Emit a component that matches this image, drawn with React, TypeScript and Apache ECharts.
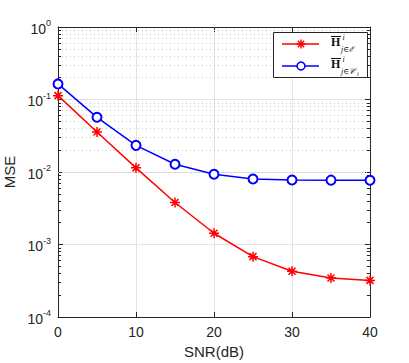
import React, { useEffect, useRef } from "react";
import * as echarts from "echarts";

const snr = [0, 5, 10, 15, 20, 25, 30, 35, 40];
const mseE = [0.113, 0.0356, 0.0114, 0.0038, 0.00143, 0.00068, 0.000427, 0.000345, 0.00032];
const mseC = [0.164, 0.0568, 0.0233, 0.0128, 0.0093, 0.008, 0.00777, 0.00772, 0.0077];
const xTicks = [0, 10, 20, 30, 40];
const decades = [-4, -3, -2, -1, 0];
const minorMult = [2, 3, 4, 5, 6, 7, 8, 9];

const AX = "#262626";
const FONT = "'Liberation Sans', Arial, Helvetica, sans-serif";
const SERIF = "'Liberation Serif', 'DejaVu Serif', serif";
const STAR = "path://M0,-10L0,10M-10,0L10,0M-7,-7L7,7M-7,7L7,-7";

export default function App() {
  const ref = useRef<HTMLDivElement>(null);
  useEffect(() => {
    document.body.style.margin = "0";
    const chart = echarts.init(ref.current!, null, { renderer: "svg" });
    const minorVals: number[] = [];
    decades.slice(0, -1).forEach((d) => minorMult.forEach((m) => minorVals.push(m * Math.pow(10, d))));
    const xMin = xTicks[0];
    const xMax = xTicks[xTicks.length - 1];
    const minorGrid = minorVals.map((v) => ({ yAxis: v }));
    const minorTicks: any[] = [];
    minorVals.forEach((v) => {
      minorTicks.push([{ coord: [xMin, v] }, { coord: [xMin + 0.4, v] }]);
      minorTicks.push([{ coord: [xMax - 0.4, v] }, { coord: [xMax, v] }]);
    });
    const yLabel = (v: number) => {
      const e = Math.round(Math.log10(v));
      return `{b|10}{s|${e}}`;
    };
    const ySide = (pos: "left" | "right", show: boolean) => ({
      type: "log",
      logBase: 10,
      min: 1e-4,
      max: 1,
      position: pos,
      splitNumber: 4,
      axisLine: { show: true, onZero: false, lineStyle: { color: AX, width: 1 } },
      axisTick: { show: true, inside: true, length: 5, lineStyle: { color: AX } },
      splitLine: { show: show, lineStyle: { color: "#e3e3e3", width: 1 } },
      axisLabel: {
        show: show,
        formatter: yLabel,
        margin: 7,
        rich: {
          b: { fontSize: 14, fontFamily: FONT, color: AX, lineHeight: 17, verticalAlign: "bottom" },
          s: { fontSize: 9, fontFamily: FONT, color: AX, lineHeight: 17, verticalAlign: "top" },
        },
      },
      name: show ? "MSE" : "",
      nameLocation: "middle",
      nameGap: 30,
      nameRotate: 90,
      nameTextStyle: { fontSize: 15, fontFamily: FONT, color: AX },
    });
    const xSide = (pos: "bottom" | "top", show: boolean) => ({
      type: "value",
      min: xMin,
      max: xMax,
      interval: 10,
      position: pos,
      axisLine: { show: true, onZero: false, lineStyle: { color: AX, width: 1 } },
      axisTick: { show: true, inside: true, length: 5, lineStyle: { color: AX } },
      splitLine: { show: show, lineStyle: { color: "#e3e3e3", width: 1 } },
      axisLabel: { show: show, fontSize: 14, fontFamily: FONT, color: AX, margin: 8 },
      name: show ? "SNR(dB)" : "",
      nameLocation: "middle",
      nameGap: 27,
      nameTextStyle: { fontSize: 15, fontFamily: FONT, color: AX },
    });

    const lx = 273, ly = 32;
    const legendEntry = (dy: number, color: string, marker: "star" | "circle", sub: string, subI: boolean) => {
      const cy = ly + 12 + dy;
      const els: any[] = [
        { type: "line", shape: { x1: lx + 9, y1: cy, x2: lx + 46, y2: cy }, style: { stroke: color, lineWidth: 1.5 } },
      ];
      if (marker === "star") {
        const r = 4.5, d = 3.2, cx = lx + 28;
        els.push(
          { type: "line", shape: { x1: cx, y1: cy - r, x2: cx, y2: cy + r }, style: { stroke: color, lineWidth: 1.5 } },
          { type: "line", shape: { x1: cx - r, y1: cy, x2: cx + r, y2: cy }, style: { stroke: color, lineWidth: 1.5 } },
          { type: "line", shape: { x1: cx - d, y1: cy - d, x2: cx + d, y2: cy + d }, style: { stroke: color, lineWidth: 1.5 } },
          { type: "line", shape: { x1: cx - d, y1: cy + d, x2: cx + d, y2: cy - d }, style: { stroke: color, lineWidth: 1.5 } }
        );
      } else {
        els.push({ type: "circle", shape: { cx: lx + 28, cy, r: 4 }, style: { fill: "#fff", stroke: color, lineWidth: 1.5 } });
      }
      const hx = lx + 58;
      els.push(
        { type: "text", x: hx, y: cy + 4, style: { text: "H", font: `bold 12px ${SERIF}`, fill: "#111", textVerticalAlign: "bottom", verticalAlign: "bottom" } },
        { type: "line", shape: { x1: hx, y1: cy - 7.5, x2: hx + 10, y2: cy - 7.5 }, style: { stroke: "#111", lineWidth: 1 } },
        { type: "text", x: hx + 11.5, y: cy - 3, style: { text: "i", font: `italic 8px ${SERIF}`, fill: "#111", textVerticalAlign: "bottom", verticalAlign: "bottom" } },
        { type: "text", x: hx + 10, y: cy + 9, style: { text: sub, font: `italic 8px ${SERIF}`, fill: "#111", textVerticalAlign: "bottom", verticalAlign: "bottom" } }
      );
      if (subI) {
        els.push({ type: "text", x: hx + 26, y: cy + 10.5, style: { text: "i", font: `italic 6px ${SERIF}`, fill: "#111", textVerticalAlign: "bottom", verticalAlign: "bottom" } });
      }
      return els;
    };

    chart.setOption({
      animation: false,
      backgroundColor: "#fff",
      grid: { left: 58, right: 39, top: 27, bottom: 46, outerBoundsMode: "none", containLabel: false },
      xAxis: [xSide("bottom", true), xSide("top", false)],
      yAxis: [ySide("left", true), ySide("right", false)],
      series: [
        {
          type: "line",
          silent: true,
          data: [],
          markLine: {
            silent: true,
            symbol: "none",
            label: { show: false },
            lineStyle: { color: "#c8c8c8", type: [1, 3], width: 1 },
            data: minorGrid,
          },
        },
        {
          type: "line",
          silent: true,
          data: [],
          markLine: {
            silent: true,
            symbol: "none",
            label: { show: false },
            lineStyle: { color: AX, type: "solid", width: 1 },
            data: minorTicks,
          },
        },
        {
          name: "E",
          type: "line",
          data: snr.map((x, i) => [x, mseE[i]]),
          symbol: STAR,
          symbolSize: 10,
          lineStyle: { color: "#ff0000", width: 1.5 },
          itemStyle: { color: "#ff0000", borderColor: "#ff0000", borderWidth: 1.5 },
          z: 5,
        },
        {
          name: "C",
          type: "line",
          data: snr.map((x, i) => [x, mseC[i]]),
          symbol: "emptyCircle",
          symbolSize: 9,
          lineStyle: { color: "#0000ff", width: 1.5 },
          itemStyle: { color: "#0000ff", borderColor: "#0000ff", borderWidth: 1.5 },
          z: 5,
        },
      ],
      graphic: [
        {
          type: "rect",
          shape: { x: lx + 0.5, y: ly + 0.5, width: 94, height: 45 },
          style: { fill: "#fff", stroke: AX, lineWidth: 1 },
          z: 100,
        },
        ...legendEntry(0, "#ff0000", "star", "j∈ℰ", false).map((e) => ({ ...e, z: 101 })),
        ...legendEntry(22, "#0000ff", "circle", "j∈𝒞", true).map((e) => ({ ...e, z: 101 })),
      ],
    });
    return () => chart.dispose();
  }, []);
  return <div ref={ref} style={{ width: 409, height: 363 }} />;
}
